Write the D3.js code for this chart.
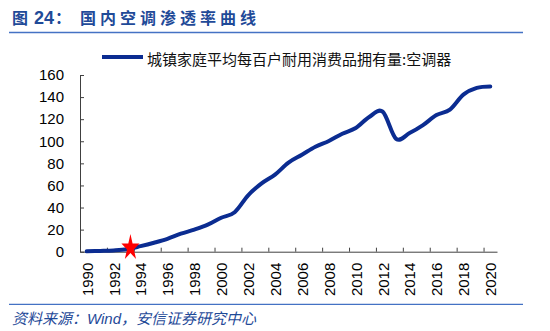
<!DOCTYPE html>
<html>
<head>
<meta charset="utf-8">
<script src="https://cdn.jsdelivr.net/npm/d3@7"></script>
<style>
  html, body { margin: 0; padding: 0; background: #fff; }
  svg { display: block; }
</style>
</head>
<body>
<svg id="chart" width="550" height="331"></svg>
<script>
// ---- data ----
const years = [1990,1991,1992,1993,1994,1995,1996,1997,1998,1999,2000,2001,2002,2003,2004,2005,2006,2007,2008,2009,2010,2011,2012,2013,2014,2015,2016,2017,2018,2019,2020];
const acPer100 = [0.34,0.71,1.19,2.27,5.0,8.09,11.61,16.29,20.01,24.48,30.76,35.79,51.1,61.8,69.81,80.67,87.79,95.08,100.28,106.84,112.07,122.0,126.81,102.2,107.4,114.6,123.7,128.6,142.2,148.3,149.6];
const yTicks = [0,20,40,60,80,100,120,140,160];
const xLabelYears = [1990,1992,1994,1996,1998,2000,2002,2004,2006,2008,2010,2012,2014,2016,2018,2020];
const seriesName = "城镇家庭平均每百户耐用消费品拥有量:空调器";
const titleNum = "24";
const titleText = "国内空调渗透率曲线";
const sourceText = ["资料来源：", "Wind", "，安信证券研究中心"];
const starMark = { year: 1993.25, value: 3.5 };

// ---- layout ----
const svg = d3.select("#chart");
const X0 = 80, X1 = 497, Y0 = 251.7, Y1 = 75;
const lineColor = "#0B2C91";
const blue = "#1F4A98";
const rule = "#4472C4";
const axisColor = "#404040";
const numFont = "'Liberation Sans', Arial, sans-serif";
const cjkFont = "'Noto Sans CJK SC', 'Liberation Sans', sans-serif";

const x = d3.scaleLinear().domain([years[0] - 0.5, years[years.length - 1] + 0.5]).range([X0, X1]);
const y = d3.scaleLinear().domain([0, 160]).range([Y0, Y1]);

// ---- title ----
const title = svg.append("text").attr("y", 24).attr("fill", blue).attr("font-weight", "bold");
title.append("tspan").attr("x", 12).attr("font-family", cjkFont).attr("font-size", 16).text("图");
title.append("tspan").attr("x", 34).attr("font-family", numFont).attr("font-size", 18).text(titleNum);
title.append("tspan").attr("x", 55).attr("font-family", cjkFont).attr("font-size", 16).text("：");
title.append("tspan").attr("x", 80).attr("font-family", cjkFont).attr("font-size", 16)
  .attr("letter-spacing", 4).text(titleText);

svg.append("line").attr("x1", 9).attr("x2", 523).attr("y1", 32.5).attr("y2", 32.5)
  .attr("stroke", rule).attr("stroke-width", 1.3);

// ---- legend ----
svg.append("line").attr("x1", 102).attr("x2", 143).attr("y1", 57).attr("y2", 57)
  .attr("stroke", lineColor).attr("stroke-width", 4);
svg.append("text").attr("x", 147).attr("y", 65).attr("font-family", cjkFont)
  .attr("font-size", 15).attr("fill", "#111").text(seriesName);

// ---- y axis ----
const yAxis = d3.axisLeft(y).tickValues(yTicks).tickSizeInner(-4).tickSizeOuter(0).tickPadding(16);
const gy = svg.append("g").attr("transform", `translate(${X0},0)`).call(yAxis);
gy.select(".domain").attr("stroke", axisColor);
gy.selectAll(".tick line").attr("stroke", axisColor);
gy.selectAll(".tick text").attr("font-family", numFont).attr("font-size", 15).attr("fill", "#000");

// ---- x axis: tick marks at category boundaries ----
const boundaryTicks = xLabelYears.map(d => d - 0.5);
const xAxisTicks = d3.axisBottom(x).tickValues(boundaryTicks).tickSizeInner(-4).tickSizeOuter(0).tickFormat("");
const gx = svg.append("g").attr("transform", `translate(0,${Y0})`).call(xAxisTicks);
gx.select(".domain").attr("stroke", axisColor);
gx.selectAll(".tick line").attr("stroke", axisColor);

// labels at category centres, rotated
const xAxisLabels = d3.axisBottom(x).tickValues(xLabelYears).tickSize(0).tickFormat(d3.format("d"));
const gxl = svg.append("g").attr("transform", `translate(0,${Y0})`).call(xAxisLabels);
gxl.select(".domain").remove();
gxl.selectAll(".tick text")
  .attr("font-family", numFont).attr("font-size", 15).attr("fill", "#000")
  .attr("transform", "rotate(-90)")
  .attr("text-anchor", "end")
  .attr("x", -11).attr("y", 0).attr("dy", "0.36em");

// ---- series line ----
const line = d3.line()
  .x((d, i) => x(years[i]))
  .y(d => y(d))
  .curve(d3.curveCardinal.tension(0));
svg.append("path").datum(acPer100)
  .attr("d", line)
  .attr("fill", "none")
  .attr("stroke", lineColor)
  .attr("stroke-width", 4)
  .attr("stroke-linejoin", "round")
  .attr("stroke-linecap", "round");

// ---- star marker ----
const starR = 9.5;
svg.append("path")
  .attr("d", d3.symbol(d3.symbolStar, starR * starR / 0.8908)())
  .attr("transform", `translate(${x(starMark.year)},${y(starMark.value)}) scale(1,1.45)`)
  .attr("fill", "#FF0000");

// ---- footer ----
svg.append("line").attr("x1", 9).attr("x2", 523).attr("y1", 304.3).attr("y2", 304.3)
  .attr("stroke", rule).attr("stroke-width", 1.3);
const src = svg.append("text").attr("x", 12).attr("y", 324).attr("fill", blue)
  .attr("font-style", "italic").attr("font-size", 15);
src.append("tspan").attr("font-family", cjkFont).text(sourceText[0]);
src.append("tspan").attr("font-family", numFont).text(sourceText[1]);
src.append("tspan").attr("font-family", cjkFont).text(sourceText[2]);
</script>
</body>
</html>
